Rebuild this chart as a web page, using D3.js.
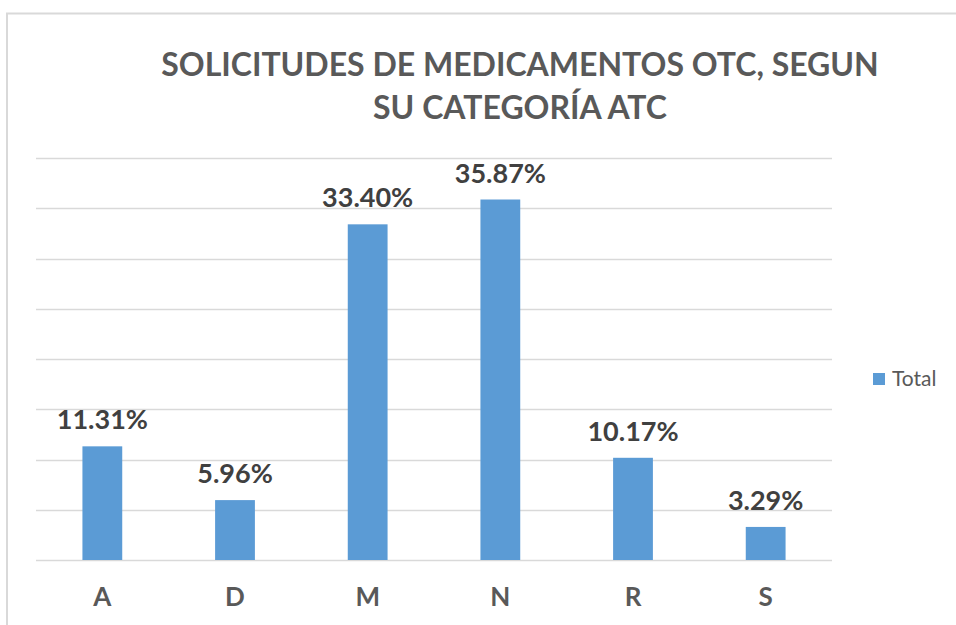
<!DOCTYPE html>
<html>
	<head>
		<meta charset="utf-8">
		<title>Solicitudes OTC</title>
		<script src="https://d3js.org/d3.v7.min.js"></script>
		<style type="text/css">
			body { margin: 0; background: #fff; }
			svg { display: block; }
		</style>
	</head>
	<body>
		<script type="text/javascript">

			var svgWidth = 956;
			var svgHeight = 625;

			// datos
			var categorias = ['A', 'D', 'M', 'N', 'R', 'S'];
			var valores = [11.31, 5.96, 33.40, 35.87, 10.17, 3.29];
			var ticks = [0, 5, 10, 15, 20, 25, 30, 35, 40];
			var titulo = ['SOLICITUDES DE MEDICAMENTOS OTC, SEGUN', 'SU CATEGORÍA ATC'];
			var serie = 'Total';

			var plotLeft = 36, plotRight = 832;
			var plotTop = 158, plotBottom = 560;

			var xScale = d3.scaleBand()
				.domain(categorias)
				.range([plotLeft, plotRight])
				.paddingInner(0.7)
				.paddingOuter(0.35);

			var yScale = d3.scaleLinear()
				.domain([0, 40])
				.range([plotBottom, plotTop]);

			var svg = d3.select('body')
				.append('svg')
				.attr('width', svgWidth)
				.attr('height', svgHeight);

			// marco del grafico
			svg.append('path')
				.attr('d', 'M7,' + svgHeight + 'V13.5H' + svgWidth)
				.attr('fill', 'none')
				.attr('stroke', '#d9d9d9')
				.attr('stroke-width', 2);

			// titulo
			svg.selectAll('text.titulo')
				.data(titulo)
				.enter()
				.append('text')
				.attr('class', 'titulo')
				.text(function(d) { return d; })
				.attr('x', 520)
				.attr('y', function(d, i) { return 76 + i * 43; })
				.attr('text-anchor', 'middle')
				.attr('font-family', 'Lato, sans-serif')
				.attr('font-weight', 'bold')
				.attr('font-size', '32px')
				.attr('fill', '#595959');

			// lineas de cuadricula
			svg.selectAll('line.grid')
				.data(ticks)
				.enter()
				.append('line')
				.attr('class', 'grid')
				.attr('x1', plotLeft)
				.attr('x2', plotRight)
				.attr('y1', function(d) { return Math.round(yScale(d)) + 0.5; })
				.attr('y2', function(d) { return Math.round(yScale(d)) + 0.5; })
				.attr('stroke', '#d9d9d9')
				.attr('stroke-width', 1.5);

			// barras
			svg.selectAll('rect.bar')
				.data(valores)
				.enter()
				.append('rect')
				.attr('class', 'bar')
				.attr('x', function(d, i) { return xScale(categorias[i]); })
				.attr('width', xScale.bandwidth())
				.attr('y', function(d) { return yScale(d); })
				.attr('height', function(d) { return plotBottom - yScale(d); })
				.attr('fill', '#5b9bd5');

			// etiquetas de datos
			svg.selectAll('text.valor')
				.data(valores)
				.enter()
				.append('text')
				.attr('class', 'valor')
				.text(function(d) { return d.toFixed(2) + '%'; })
				.attr('x', function(d, i) { return xScale(categorias[i]) + xScale.bandwidth() / 2; })
				.attr('y', function(d) { return yScale(d) - 17; })
				.attr('text-anchor', 'middle')
				.attr('font-family', 'Lato, sans-serif')
				.attr('font-weight', 'bold')
				.attr('font-size', '27px')
				.attr('fill', '#404040');

			// eje x
			var xAxis = d3.axisBottom(xScale).tickSize(0).tickPadding(28);
			var gx = svg.append('g')
				.attr('transform', 'translate(0,' + plotBottom + ')')
				.call(xAxis);
			gx.select('.domain').remove();
			gx.selectAll('text')
				.attr('font-family', 'Lato, sans-serif')
				.attr('font-weight', 'bold')
				.attr('font-size', '26px')
				.attr('fill', '#595959');

			// leyenda
			var leyenda = svg.append('g')
				.attr('transform', 'translate(873,373)');
			leyenda.append('rect')
				.attr('width', 12)
				.attr('height', 12)
				.attr('fill', '#5b9bd5');
			leyenda.append('text')
				.text(serie)
				.attr('x', 19)
				.attr('y', 13)
				.attr('font-family', 'Lato, sans-serif')
				.attr('font-size', '21px')
				.attr('fill', '#595959');

		</script>
	</body>
</html>
